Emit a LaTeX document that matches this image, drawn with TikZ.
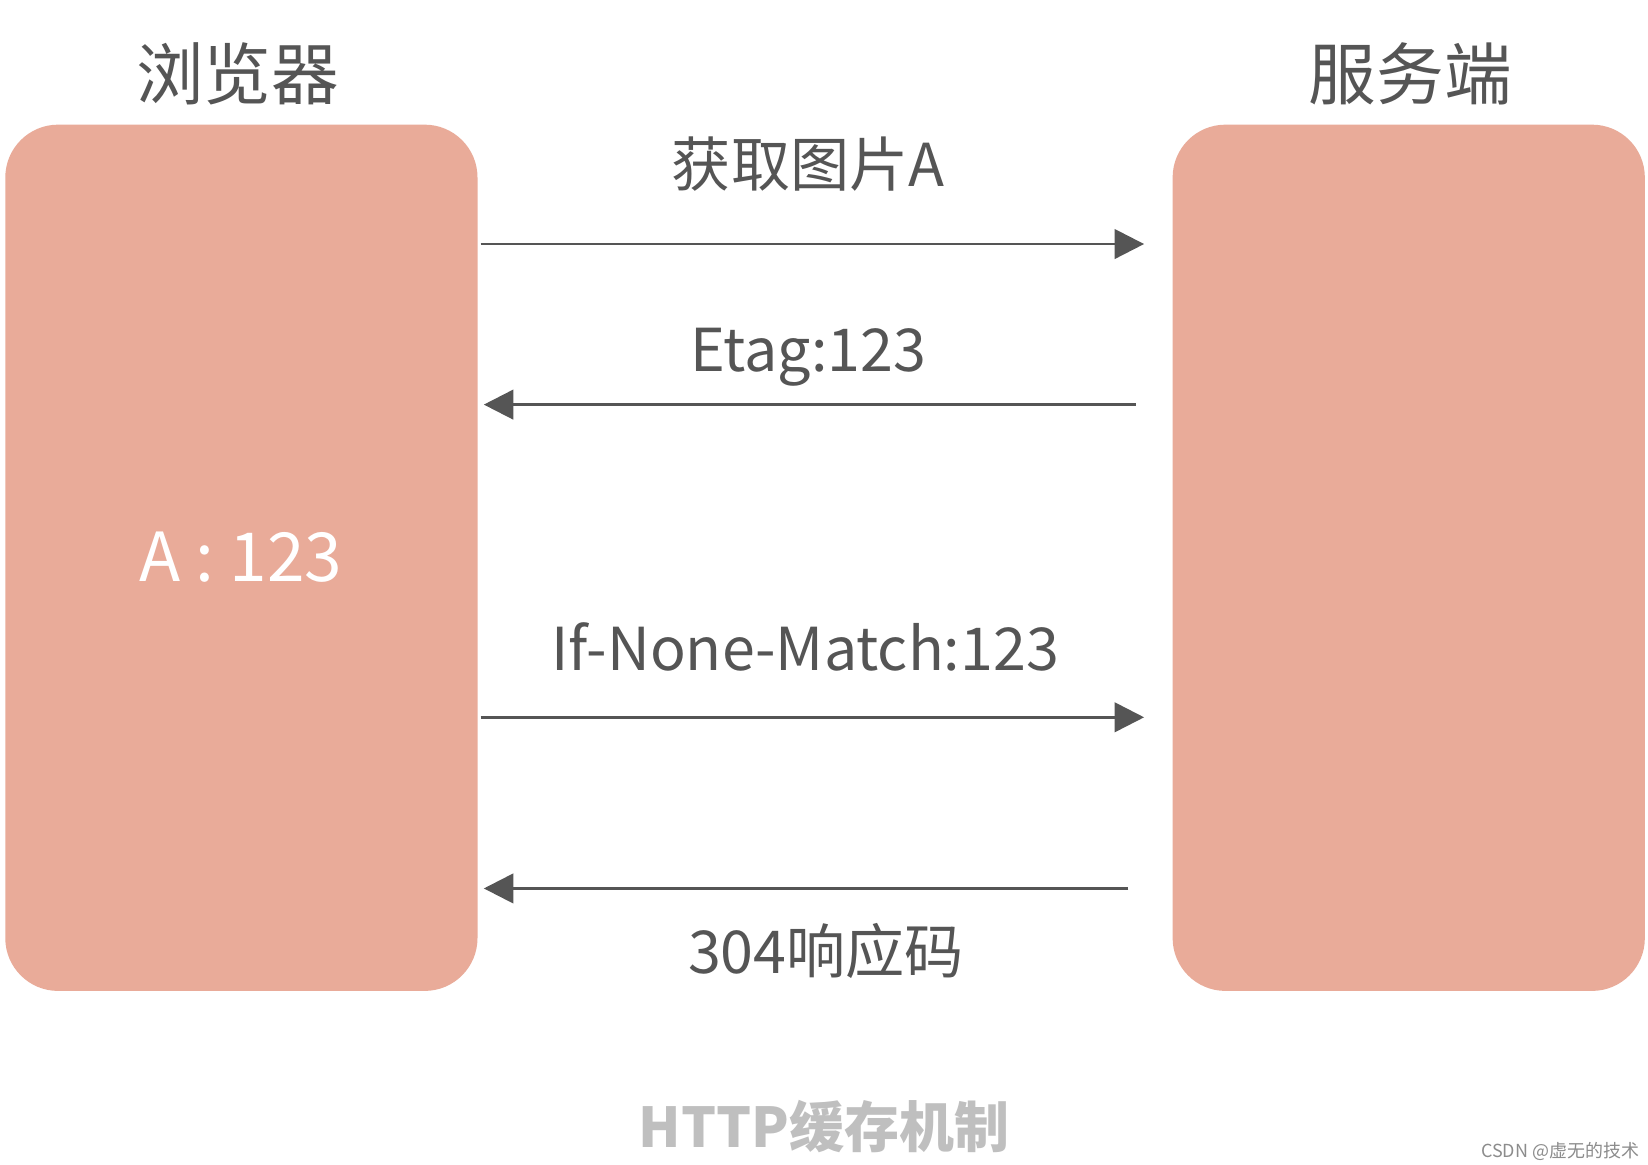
\documentclass[tikz,border=0pt]{standalone}
\usepackage{fontspec}
\setmainfont{Noto Sans CJK SC}
\usetikzlibrary{arrows.meta}
\definecolor{boxc}{HTML}{E9AB99}
\definecolor{ink}{HTML}{555555}
\begin{document}
\begin{tikzpicture}[x=1pt,y=-1pt,
  panel/.style={fill=boxc,draw=none,rounded corners=50pt},
  ttl/.style={text=ink,font=\fontsize{64}{70}\selectfont},
  lbl/.style={text=ink,font=\fontsize{56}{60}\selectfont},
  msg/.style={draw=ink,line width=2.5pt,-{Triangle[length=28pt,width=28pt]}}]
\useasboundingbox (0,0) rectangle (1560,1102);
\fill[white] (0,0) rectangle (1560,1102);
\node[panel,minimum width=447pt,minimum height=820pt] (br) at (228.5,528) {};
\node[panel,minimum width=447pt,minimum height=820pt] (sv) at (1333.5,528) {};
\node[ttl] (t1) at (225,70) {浏览器};
\node[ttl] (t2) at (1335,70) {服务端};
\node[text=white,font=\fontsize{64}{70}\selectfont] (a) at (228,527) {A : 123};
\coordinate (a1) at (455,231); \coordinate (b1) at (1083,231);
\coordinate (a2) at (1075,383); \coordinate (b2) at (458,383);
\coordinate (a3) at (455,679); \coordinate (b3) at (1083,679);
\coordinate (a4) at (1068,841); \coordinate (b4) at (458,841);
\draw[msg] (a1) -- (b1);
\draw[msg] (a2) -- (b2);
\draw[msg] (a3) -- (b3);
\draw[msg] (a4) -- (b4);
\node[lbl] (l1) at (765,155) {获取图片A};
\node[lbl] (l2) at (765,338) {Etag:123};
\node[lbl] (l3) at (762,612) {If-None-Match:123};
\node[lbl] (l4) at (782,900) {304响应码};
\node[text=black!25,font=\bfseries\fontsize{52}{56}\selectfont] (cap) at (780,1066) {HTTP缓存机制};
\node[text=black!45,font=\fontsize{17}{18}\selectfont,anchor=east] (wm) at (1555,1090) {CSDN @虚无的技术};
\end{tikzpicture}
\end{document}
